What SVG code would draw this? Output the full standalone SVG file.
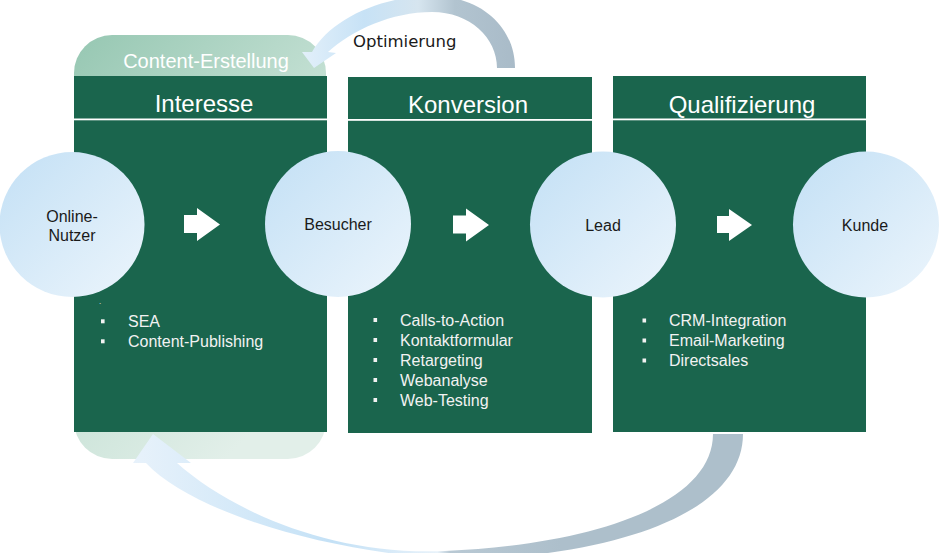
<svg xmlns="http://www.w3.org/2000/svg" width="939" height="553" viewBox="0 0 939 553">
  <defs>
    <linearGradient id="bgGreen" x1="0" y1="0" x2="0.6" y2="1">
      <stop offset="0" stop-color="#96c7b2"/>
      <stop offset="0.5" stop-color="#c2dfd2"/>
      <stop offset="1" stop-color="#e2efe9"/>
    </linearGradient>
    <linearGradient id="circ" x1="0" y1="0" x2="1" y2="1">
      <stop offset="0" stop-color="#c3e0f5"/>
      <stop offset="1" stop-color="#ecf5fc"/>
    </linearGradient>
    <linearGradient id="topArc" gradientUnits="userSpaceOnUse" x1="300" y1="0" x2="515" y2="0">
      <stop offset="0" stop-color="#e3f0fa"/>
      <stop offset="0.3" stop-color="#c7e2f6"/>
      <stop offset="0.55" stop-color="#d6e5ef"/>
      <stop offset="0.72" stop-color="#b2c4d0"/>
      <stop offset="1" stop-color="#a9bbc8"/>
    </linearGradient>
    <linearGradient id="botArc" gradientUnits="userSpaceOnUse" x1="130" y1="0" x2="745" y2="0">
      <stop offset="0" stop-color="#e8f2fb"/>
      <stop offset="0.2" stop-color="#d2e8f8"/>
      <stop offset="0.33" stop-color="#c4e1f6"/>
      <stop offset="0.5" stop-color="#e8f2fa"/>
      <stop offset="0.52" stop-color="#b9c9d4"/>
      <stop offset="0.7" stop-color="#adbfcb"/>
      <stop offset="1" stop-color="#adbfcb"/>
    </linearGradient>
    <style>
      .box { fill: #1a654d; }
      .hline { fill: #ffffff; }
      .head { font-family: "Liberation Sans", Arial, sans-serif; font-size: 24px; fill: #ffffff; text-anchor: middle; }
      .circle { fill: url(#circ); }
      .ctext { font-family: "Liberation Sans", Arial, sans-serif; font-size: 16px; fill: #1a1a1a; text-anchor: middle; }
      .item { font-family: "Liberation Sans", Arial, sans-serif; font-size: 16px; fill: #f2f2f2; }
      .bullet { fill: #f2f2f2; }
      .blk { fill: #ffffff; }
    </style>
  </defs>

  <g id="content-erstellung">
    <rect x="74" y="35" width="252" height="424" rx="38" ry="38" fill="url(#bgGreen)"/>
    <text x="206" y="68" font-family="Liberation Sans, Arial, sans-serif" font-size="20" fill="#ffffff" text-anchor="middle">Content-Erstellung</text>
  </g>

  <g id="interesse">
    <rect class="box" x="74" y="76" width="253" height="356"/>
    <rect class="hline" x="74" y="118.5" width="253" height="1.8"/>
    <text class="head" x="204" y="112">Interesse</text>
    <text x="99" y="304" font-family="Liberation Sans, Arial, sans-serif" font-size="8" fill="#f2f2f2">.</text>
    <rect class="bullet" x="101" y="319.3" width="3.6" height="4"/>
    <text class="item" x="128" y="327">SEA</text>
    <rect class="bullet" x="101" y="339.3" width="3.6" height="4"/>
    <text class="item" x="128" y="347">Content-Publishing</text>
  </g>

  <g id="konversion">
    <rect class="box" x="348" y="77" width="244" height="356"/>
    <rect class="hline" x="348" y="119" width="244" height="1.8"/>
    <text class="head" x="468" y="113">Konversion</text>
    <rect class="bullet" x="373.5" y="318" width="3.6" height="4"/>
    <text class="item" x="400" y="325.5">Calls-to-Action</text>
    <rect class="bullet" x="373.5" y="338" width="3.6" height="4"/>
    <text class="item" x="400" y="345.5">Kontaktformular</text>
    <rect class="bullet" x="373.5" y="358" width="3.6" height="4"/>
    <text class="item" x="400" y="365.5">Retargeting</text>
    <rect class="bullet" x="373.5" y="378" width="3.6" height="4"/>
    <text class="item" x="400" y="385.5">Webanalyse</text>
    <rect class="bullet" x="373.5" y="398" width="3.6" height="4"/>
    <text class="item" x="400" y="405.5">Web-Testing</text>
  </g>

  <g id="qualifizierung">
    <rect class="box" x="613" y="76" width="253" height="356"/>
    <rect class="hline" x="613" y="118.5" width="253" height="1.8"/>
    <text class="head" x="742" y="113">Qualifizierung</text>
    <rect class="bullet" x="642.5" y="318.5" width="3.6" height="4"/>
    <text class="item" x="669" y="326">CRM-Integration</text>
    <rect class="bullet" x="642.5" y="338.5" width="3.6" height="4"/>
    <text class="item" x="669" y="346">Email-Marketing</text>
    <rect class="bullet" x="642.5" y="358.5" width="3.6" height="4"/>
    <text class="item" x="669" y="366">Directsales</text>
  </g>

  <g id="online-nutzer">
    <circle class="circle" cx="72" cy="224.5" r="72.5"/>
    <text class="ctext" x="72" y="221.5">Online-</text>
    <text class="ctext" x="72" y="241">Nutzer</text>
  </g>

  <g id="besucher">
    <circle class="circle" cx="338" cy="224" r="73"/>
    <text class="ctext" x="338" y="230">Besucher</text>
  </g>

  <g id="lead">
    <circle class="circle" cx="603" cy="224.5" r="73"/>
    <text class="ctext" x="603" y="231">Lead</text>
  </g>

  <g id="kunde">
    <circle class="circle" cx="866" cy="224.5" r="73"/>
    <text class="ctext" x="865" y="231">Kunde</text>
  </g>

  <g id="connectors">
    <path class="blk" d="M184,215 H197 V208 L220,224.5 L197,241 V233 H184 Z"/>
    <path class="blk" d="M453,215.5 H466 V208.5 L489,225 L466,241.5 V233.5 H453 Z"/>
    <path class="blk" d="M717,216 H729 V209 L752,225 L729,241 V233 H717 Z"/>

    <path id="optimierung-arrow" fill="url(#topArc)" d="M302,52 L312,52 C330,20 380,-4 432,-4 C482,-4 515,28 515,68 L497,68 C497,38 470,12 432,12 C392,12 352,30 328,52 L336,53 L314,68 Z"/>
    <text x="353" y="47" font-family="DejaVu Sans, Verdana, sans-serif" font-size="16.5" fill="#1a1a1a">Optimierung</text>

    <path id="loop-arrow" fill="url(#botArc)" d="M743,434 C743,505 640,552 470,560 C340,556 195,515 146,463 L133,463 L153,434 L191,463 L177,463 C230,510 330,556 445,551 C590,545 713,505 713,434 Z"/>
  </g>
</svg>
